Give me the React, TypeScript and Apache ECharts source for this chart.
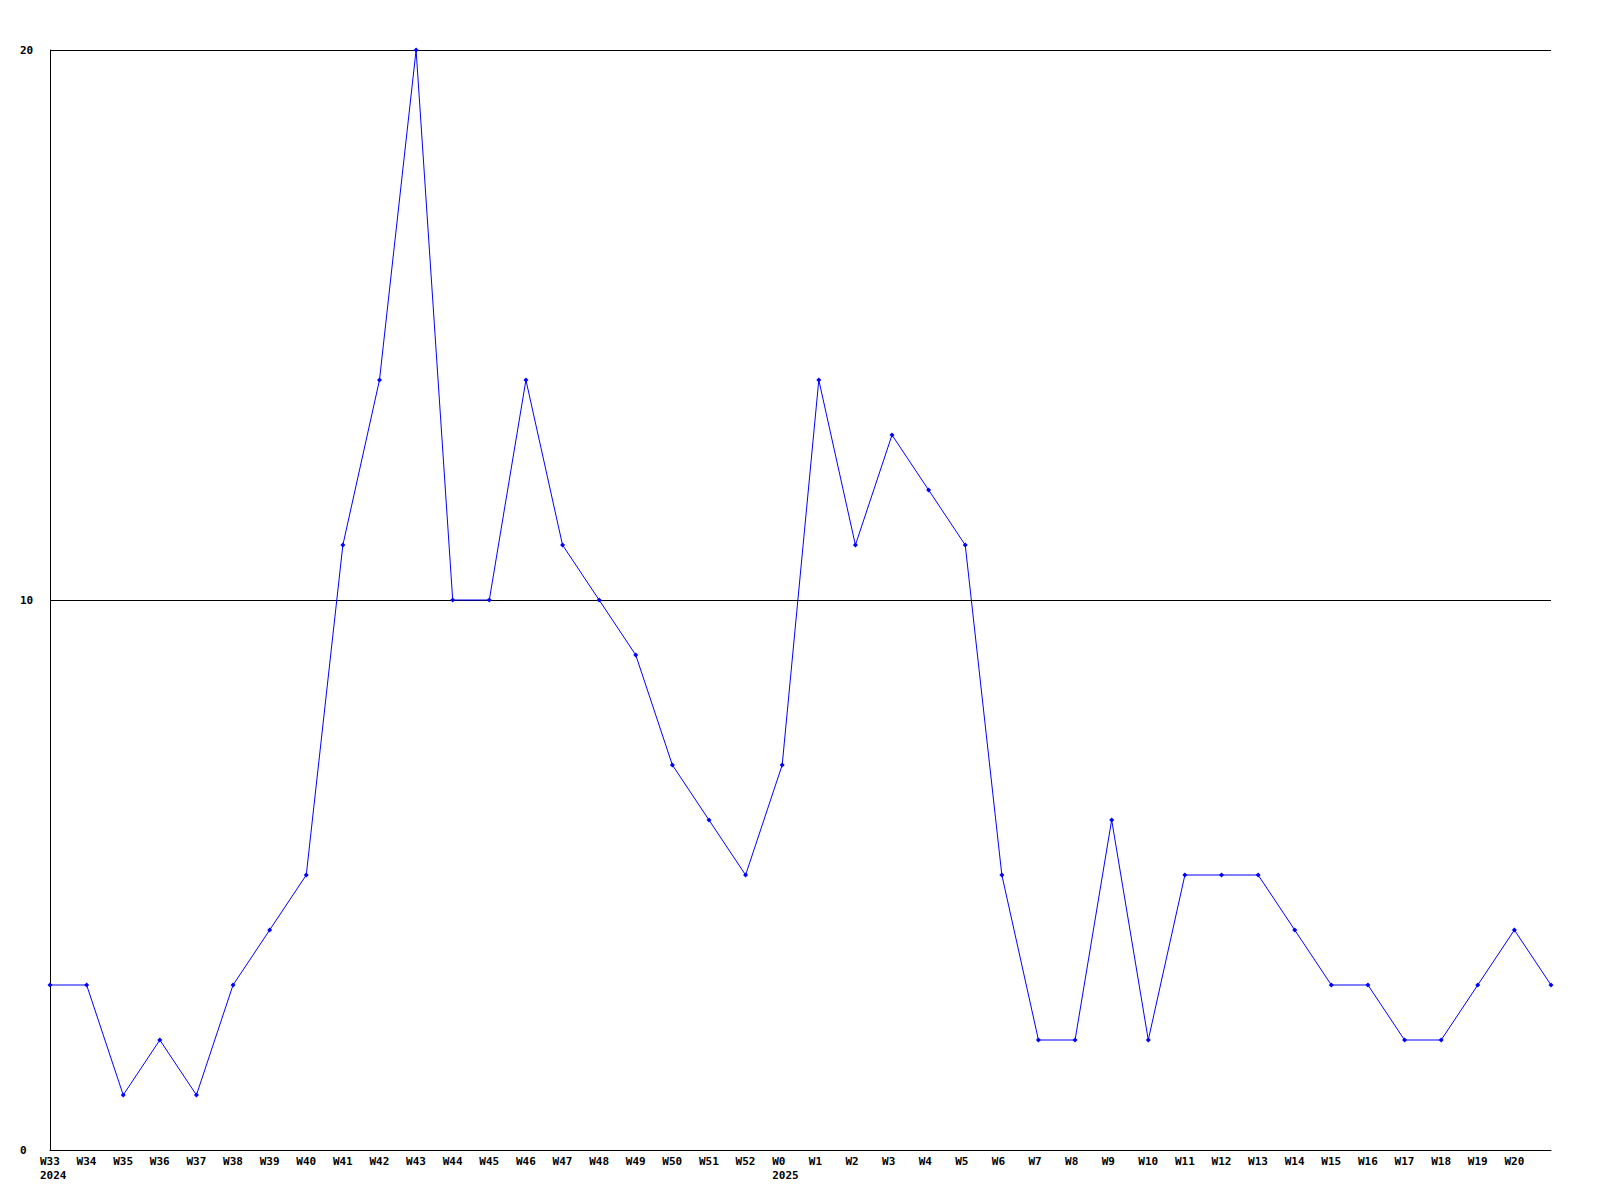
import React, { useEffect, useRef } from "react";
import * as echarts from "echarts";

const weeks = [
  "W33", "W34", "W35", "W36", "W37", "W38", "W39", "W40", "W41", "W42",
  "W43", "W44", "W45", "W46", "W47", "W48", "W49", "W50", "W51", "W52",
  "W0", "W1", "W2", "W3", "W4", "W5", "W6", "W7", "W8", "W9",
  "W10", "W11", "W12", "W13", "W14", "W15", "W16", "W17", "W18", "W19",
  "W20", "W21",
];

const values = [
  3, 3, 1, 2, 1, 3, 4, 5, 11, 14,
  20, 10, 10, 14, 11, 10, 9, 7, 6, 5,
  7, 14, 11, 13, 12, 11, 5, 2, 2, 6,
  2, 5, 5, 5, 4, 3, 3, 2, 2, 3,
  4, 3,
];

const yearStarts = [
  { week: "W33", year: "2024" },
  { week: "W0", year: "2025" },
];

const yTicks = { min: 0, max: 20, interval: 10 };

export default function App() {
  const ref = useRef<HTMLDivElement>(null);
  useEffect(() => {
    if (!ref.current) return;
    const chart = echarts.init(ref.current, undefined, { renderer: "svg" });
    const font = "'DejaVu Sans Mono', 'Liberation Mono', monospace";
    chart.setOption({
      animation: false,
      backgroundColor: "#ffffff",
      grid: { left: 50, right: 49, top: 50, bottom: 50, containLabel: false },
      xAxis: {
        type: "category",
        data: weeks,
        boundaryGap: false,
        axisLine: { show: true, lineStyle: { color: "#000000", width: 1 } },
        axisTick: { show: false },
        splitLine: { show: false },
        axisLabel: {
          interval: 0,
          margin: 4,
          align: "center",
          verticalAlign: "top",
          formatter: (val: string, idx: number) => {
            if (idx === weeks.length - 1) return "";
            const ys = yearStarts.find((y) => y.week === val);
            return ys ? `{a|${val}}\n{a|${ys.year}}` : `{a|${val}}`;
          },
          rich: {
            a: {
              width: 20,
              align: "left",
              fontFamily: font,
              fontWeight: "bold",
              fontSize: 11,
              lineHeight: 14,
              color: "#000000",
            },
          },
        },
      },
      yAxis: {
        type: "value",
        min: yTicks.min,
        max: yTicks.max,
        interval: yTicks.interval,
        axisLine: { show: true, lineStyle: { color: "#000000", width: 1 } },
        axisTick: { show: false },
        splitLine: { show: true, lineStyle: { color: "#000000", width: 1 } },
        axisLabel: {
          margin: 30,
          align: "left",
          verticalAlign: "middle",
          fontFamily: font,
          fontWeight: "bold",
          fontSize: 11,
          color: "#000000",
        },
      },
      series: [
        {
          type: "line",
          data: values,
          symbol: "diamond",
          symbolSize: 5,
          showSymbol: true,
          lineStyle: { color: "#0000ff", width: 1 },
          itemStyle: { color: "#0000ff" },
          emphasis: { disabled: true },
        },
      ],
    });
    return () => chart.dispose();
  }, []);
  return (
    <div
      ref={ref}
      style={{ position: "fixed", left: 0, top: 0, width: 1600, height: 1200, background: "#fff" }}
    />
  );
}
